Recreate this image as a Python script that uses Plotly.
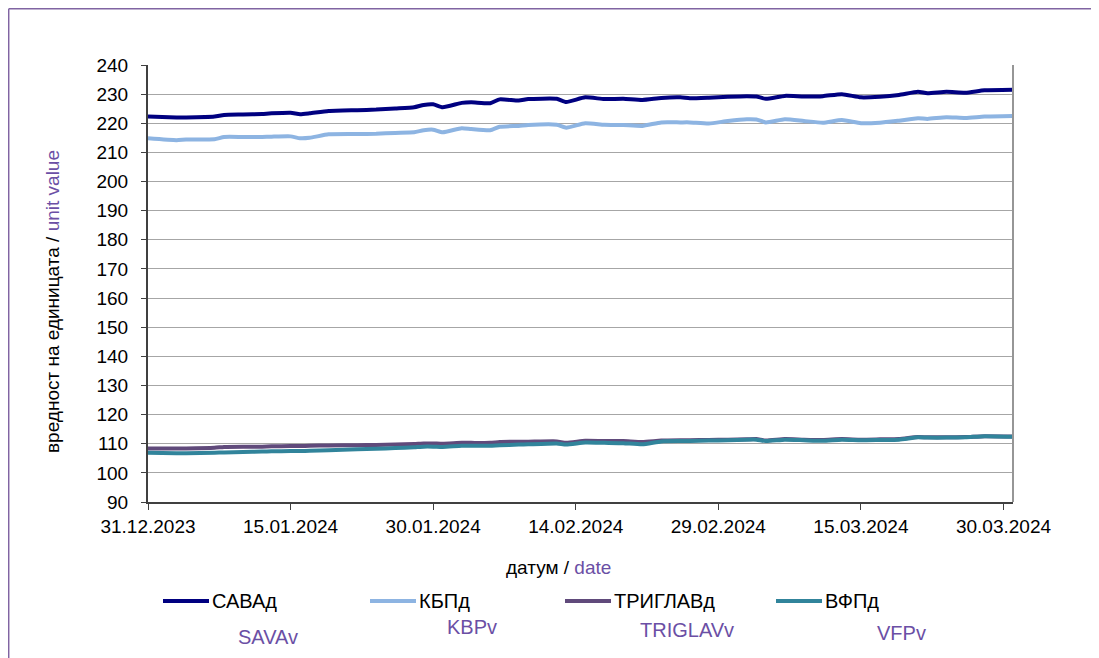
import datetime as dt
import plotly.graph_objects as go

# ---------------- data ----------------
start_date = dt.date(2023, 12, 31)
day_offsets = [0, 3, 4, 7, 8, 10, 12, 13, 15, 16, 17, 19, 22, 24, 26, 28, 29, 30, 31, 33,
               34, 36, 37, 39, 40, 43, 44, 46, 48, 50, 52, 54, 56, 57, 59, 61, 63, 64, 65, 67,
               69, 71, 73, 75, 77, 79, 81, 82, 84, 86, 88, 91]
dates = [start_date + dt.timedelta(days=d) for d in day_offsets]

sava = [222.3, 222.0, 222.0, 222.3, 222.85, 223.0, 223.2, 223.4, 223.6, 223.1, 223.4, 224.2, 224.5,
        224.7, 225.1, 225.5, 226.3, 226.5, 225.5, 227.0, 227.2, 226.9, 228.2, 227.8, 228.3, 228.4,
        227.3, 228.9, 228.3, 228.4, 228.0, 228.7, 228.9, 228.6, 228.8, 229.1, 229.3, 229.2, 228.4,
        229.4, 229.2, 229.3, 230.0, 228.9, 229.1, 229.7, 230.8, 230.3, 230.8, 230.5, 231.3, 231.5]
kbp = [214.85, 214.2, 214.4, 214.5, 215.3, 215.3, 215.3, 215.4, 215.5, 214.85, 215.0, 216.2, 216.3,
       216.4, 216.7, 216.9, 217.6, 217.8, 216.9, 218.3, 218.0, 217.6, 218.8, 219.1, 219.4, 219.5,
       218.5, 220.0, 219.5, 219.4, 219.1, 220.3, 220.3, 220.3, 219.9, 220.8, 221.4, 221.3, 220.3,
       221.4, 220.8, 220.2, 221.1, 220.0, 220.2, 220.9, 221.7, 221.5, 222.1, 221.8, 222.3, 222.5]
triglav = [108.4, 108.4, 108.4, 108.6, 108.9, 109.0, 109.0, 109.1, 109.2, 109.2, 109.3, 109.4, 109.5,
           109.6, 109.7, 109.9, 110.1, 110.1, 110.0, 110.3, 110.3, 110.3, 110.6, 110.7, 110.7, 110.8,
           110.3, 111.0, 110.9, 110.9, 110.6, 111.1, 111.2, 111.2, 111.3, 111.4, 111.5, 111.6, 111.1,
           111.6, 111.4, 111.3, 111.6, 111.4, 111.5, 111.6, 112.3, 112.2, 112.2, 112.3, 112.6, 112.5]
vfp = [106.9, 106.7, 106.7, 106.9, 107.0, 107.2, 107.3, 107.4, 107.5, 107.5, 107.6, 107.8, 108.1,
       108.3, 108.5, 108.8, 109.0, 109.0, 108.9, 109.3, 109.3, 109.3, 109.5, 109.7, 109.8, 110.1,
       109.7, 110.4, 110.3, 110.2, 109.8, 110.8, 110.9, 110.9, 111.1, 111.2, 111.4, 111.4, 110.9,
       111.4, 111.2, 111.0, 111.4, 111.2, 111.3, 111.4, 112.2, 112.1, 112.1, 112.2, 112.6, 112.4]

names_bg = ["САВАд", "КБПд", "ТРИГЛАВд", "ВФПд"]
names_en = ["SAVAv", "KBPv", "TRIGLAVv", "VFPv"]
colors = ["#000080", "#8DB4E2", "#604A7B", "#31849B"]
series = [sava, kbp, triglav, vfp]

tick_dates = [start_date + dt.timedelta(days=15 * i) for i in range(7)]
tick_labels = [d.strftime("%d.%m.%Y") for d in tick_dates]

# ---------------- layout geometry (page has an 8px body margin) ----------------
OFF = 8
W, H = 1099 - OFF, 658 - OFF
L, R, T, B = 148 - OFF, 1013 - OFF, 65 - OFF, 502 - OFF
PURPLE = "#6B4FA5"
FONT = "Arial, Liberation Sans, sans-serif"
FS = 19
FS_LEG = 20


def px(x):  # reference screen x -> paper
    return (x - OFF - L) / (R - L)


def py(y):  # reference screen y -> paper
    return (B - (y - OFF)) / (B - T)


fig = go.Figure()
for name, col, vals in zip(names_bg, colors, series):
    fig.add_trace(go.Scatter(x=dates, y=vals, mode="lines", name=name,
                             line=dict(color=col, width=4, shape="spline", smoothing=0.5),
                             showlegend=False))

shapes = []
annotations = []

# outer purple frame (top and left edges)
shapes.append(dict(type="line", xref="paper", yref="paper", x0=px(8.7), x1=px(1110),
                   y0=py(8.7), y1=py(8.7), line=dict(color="#8064A2", width=1.5)))
shapes.append(dict(type="line", xref="paper", yref="paper", x0=px(8.7), x1=px(8.7),
                   y0=py(8.7), y1=py(670), line=dict(color="#8064A2", width=1.5)))
# right plot border
shapes.append(dict(type="line", xref="paper", yref="paper", x0=1, x1=1, y0=0, y1=1,
                   line=dict(color="#969696", width=2)))

# manual legend
leg_line_x = [163, 370, 565, 776]
leg_en_x = [268, 472, 687, 901]
leg_en_y = [637, 627, 630, 633]
leg_y = 601
for i in range(4):
    x0 = leg_line_x[i]
    shapes.append(dict(type="line", xref="paper", yref="paper", x0=px(x0), x1=px(x0 + 46),
                       y0=py(leg_y), y1=py(leg_y), line=dict(color=colors[i], width=4)))
    annotations.append(dict(xref="paper", yref="paper", x=px(x0 + 47), y=py(leg_y),
                            text=names_bg[i], showarrow=False, xanchor="left", yanchor="middle",
                            font=dict(family=FONT, size=FS_LEG, color="#000000")))
    annotations.append(dict(xref="paper", yref="paper", x=px(leg_en_x[i]), y=py(leg_en_y[i]),
                            text=names_en[i], showarrow=False, xanchor="center", yanchor="middle",
                            font=dict(family=FONT, size=FS_LEG, color=PURPLE)))

# axis titles
annotations.append(dict(xref="paper", yref="paper", x=px(558), y=py(567),
                        text="датум / <span style='color:%s'>date</span>" % PURPLE,
                        showarrow=False, xanchor="center", yanchor="middle",
                        font=dict(family=FONT, size=FS, color="#000000")))
annotations.append(dict(xref="paper", yref="paper", x=px(52), y=py(302),
                        text="вредност на единицата / <span style='color:%s'>unit value</span>" % PURPLE,
                        showarrow=False, xanchor="center", yanchor="middle", textangle=-90,
                        font=dict(family=FONT, size=FS, color="#000000")))

fig.update_layout(
    width=W, height=H,
    margin=dict(l=L, r=W - R, t=T, b=H - B, pad=0),
    paper_bgcolor="white", plot_bgcolor="white",
    font=dict(family=FONT, size=FS, color="#000000"),
    shapes=shapes, annotations=annotations,
    showlegend=False,
)
fig.update_xaxes(
    type="date",
    range=[start_date.isoformat(), (start_date + dt.timedelta(days=91)).isoformat()],
    tickmode="array", tickvals=[d.isoformat() for d in tick_dates], ticktext=tick_labels,
    ticks="outside", ticklen=6, tickcolor="#404040", tickwidth=1,
    showline=True, linecolor="#404040", linewidth=2,
    showgrid=False, zeroline=False, ticklabelstandoff=0,
    tickfont=dict(family=FONT, size=FS, color="#000000"),
)
fig.update_yaxes(
    range=[90, 240], dtick=10, tick0=90,
    ticks="outside", ticklen=5, tickcolor="#404040", tickwidth=1,
    showline=True, linecolor="#404040", linewidth=2,
    showgrid=True, gridcolor="#A6A6A6", gridwidth=1, zeroline=False,
    ticklabelstandoff=9,
    tickfont=dict(family=FONT, size=FS, color="#000000"),
)

fig.write_html("out.html")
